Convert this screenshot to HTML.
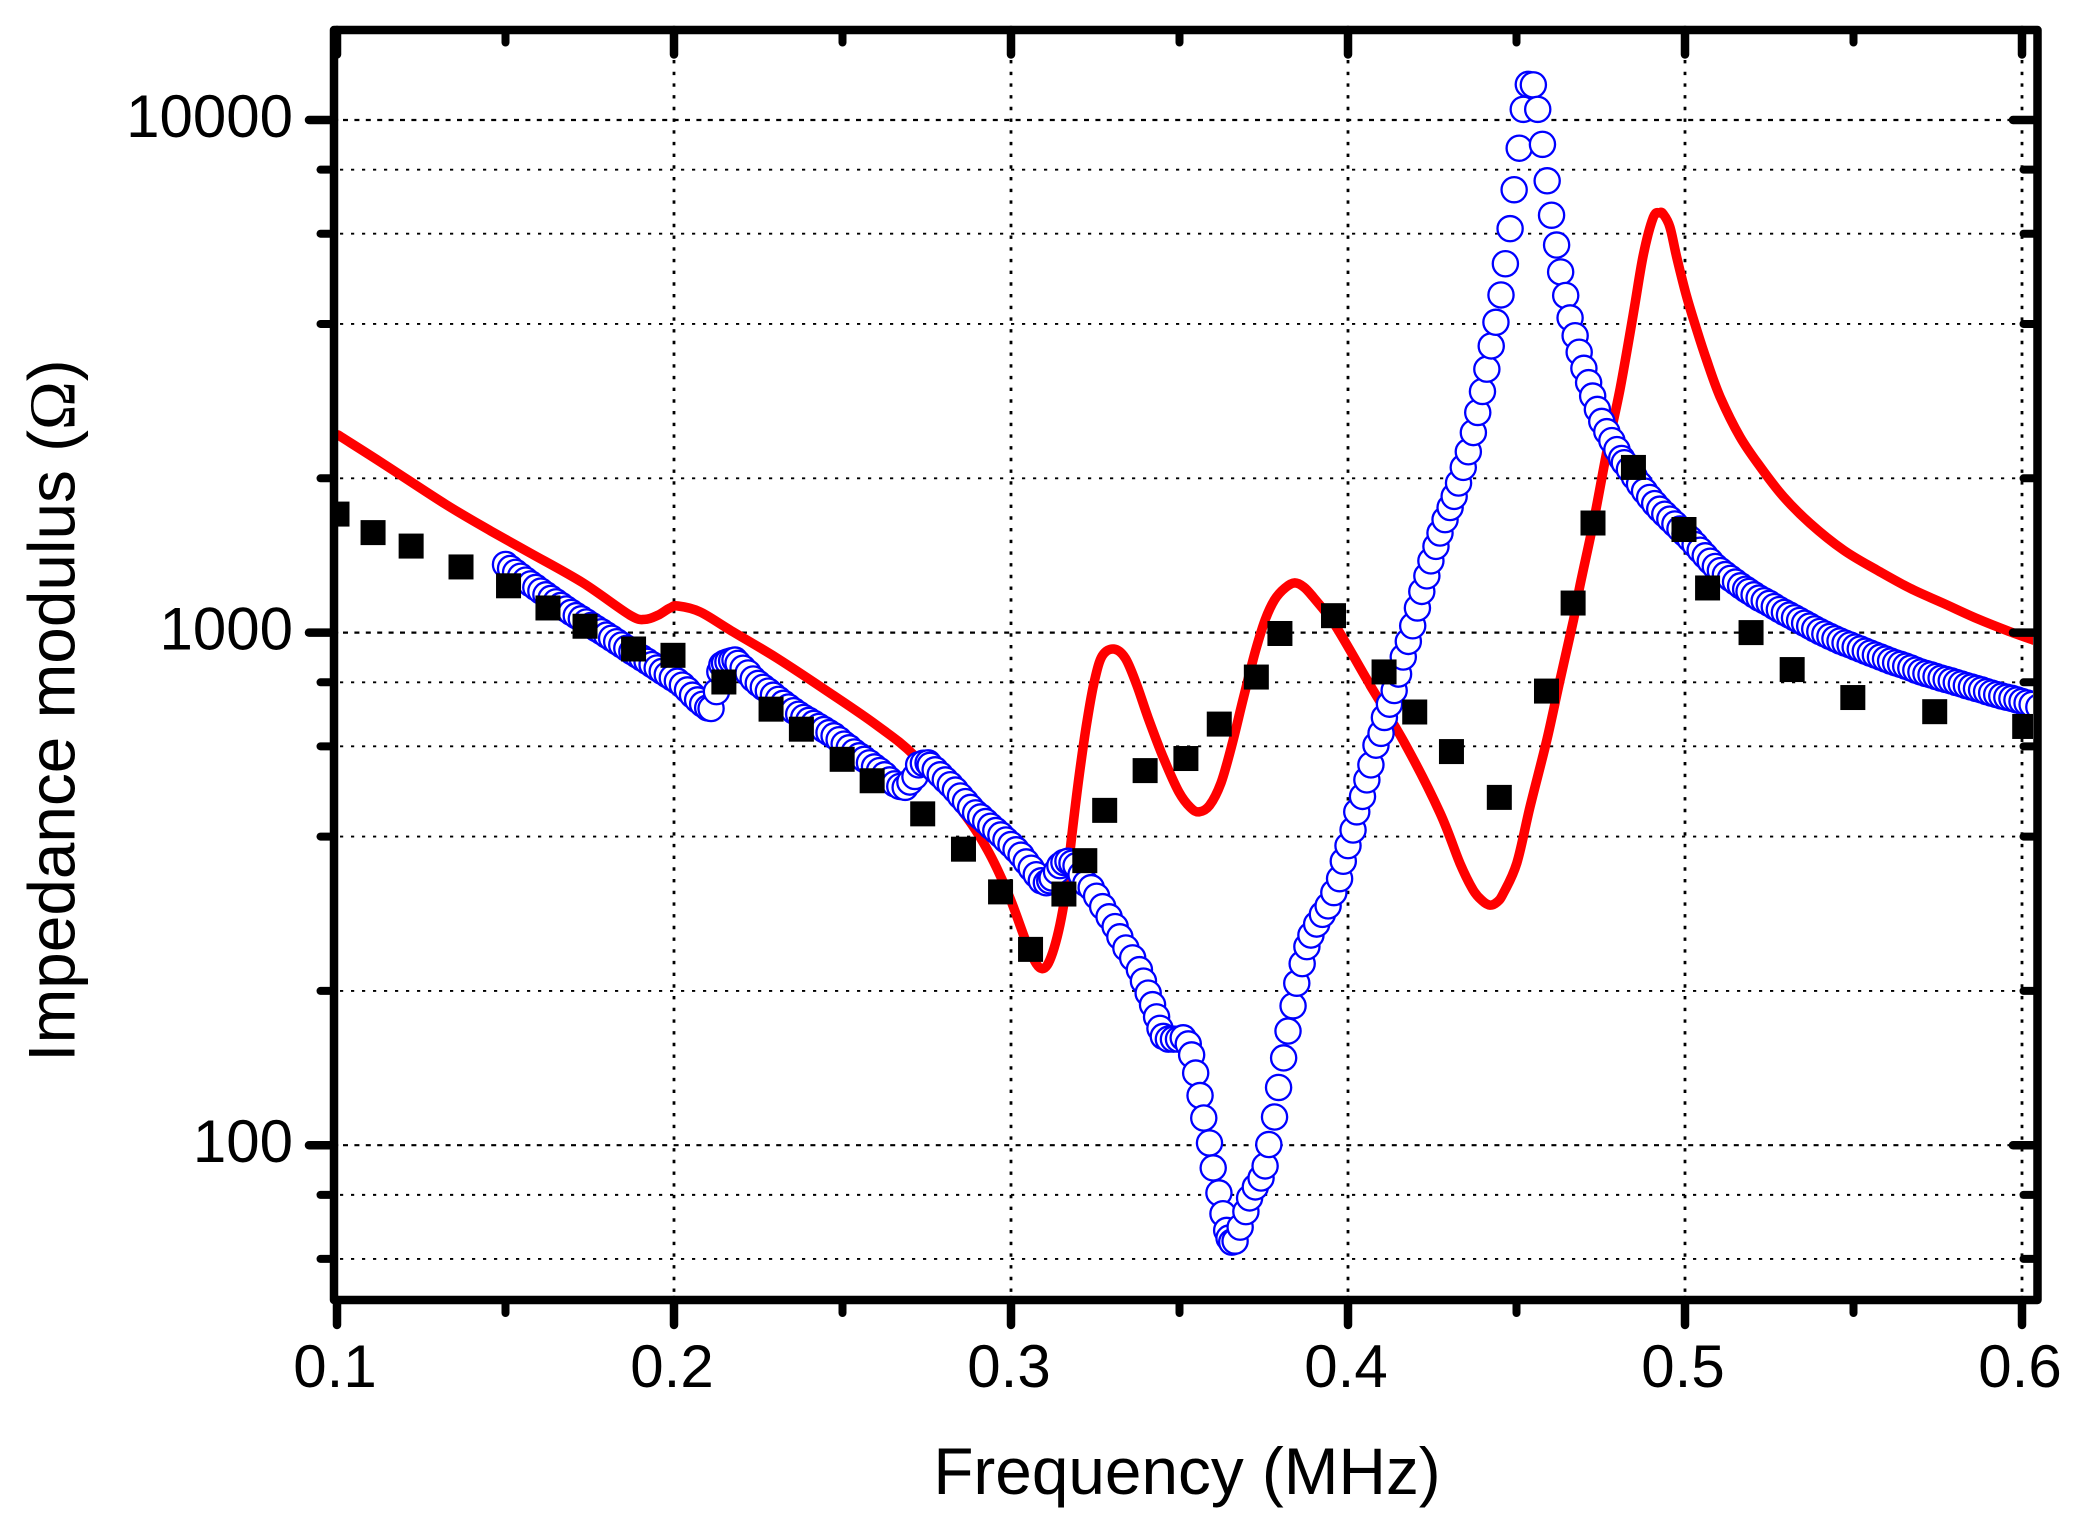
<!DOCTYPE html>
<html lang="en">
<head>
<meta charset="utf-8">
<title>Impedance modulus vs frequency</title>
<style>
html,body{margin:0;padding:0;background:#fff;}
svg{display:block;}
text{font-family:"Liberation Sans",sans-serif;fill:#000;}
</style>
</head>
<body>
<svg id="chart" xmlns="http://www.w3.org/2000/svg" width="2085" height="1534" viewBox="0 0 2085 1534">
<defs><clipPath id="plot-clip"><rect x="338" y="34" width="1695" height="1262"/></clipPath></defs>
<rect x="0" y="0" width="2085" height="1534" fill="#fff"/>
<g id="grid"></g>
<g id="marks" clip-path="url(#plot-clip)"></g>
<g id="axes"></g>
<g id="labels"></g>
<text x="1187" y="1494" font-size="65.7" text-anchor="middle">Frequency (MHz)</text>
<text transform="translate(74.5,710.5) rotate(-90)" font-size="65.7" text-anchor="middle">Impedance modulus (<tspan style="font-family:'Liberation Serif',serif">Ω</tspan>)</text>
</svg>
<script>
const xMajorTicks = [0.1, 0.2, 0.3, 0.4, 0.5, 0.6];
const xMinorTicks = [0.15, 0.25, 0.35, 0.45, 0.55];
const xTickLabels = ["0.1", "0.2", "0.3", "0.4", "0.5", "0.6"];
const yMajorTicks = [100, 1000, 10000];
const yMinorTicks = [60, 80, 200, 400, 600, 800, 2000, 4000, 6000, 8000];
const yTickLabels = ["100", "1000", "10000"];

const measuredFreq = [.1,.1107,.122,.1368,.1509,.1626,.1736,.188,.1997,.2148,.2288,.2378,.2499,.2588,.2738,.2859,.2969,.3058,.3157,.3219,.3278,.3398,.3519,.3618,.3728,.3798,.3957,.4107,.4198,.4307,.4449,.4589,.4668,.4727,.4847,.4997,.5067,.5196,.5318,.5498,.5741,.6008];
const measuredOhm = [1703,1567,1475,1343,1234,1117,1029,929,903,801,709,648,566,514,443,378,312,241,309,359,450,538,568,663,819,996,1079,838,700,586,477,769,1142,1636,2100,1589,1222,1000,847,747,701,656];

const modelFreq = [.1003,.1139,.1323,.1457,.1573,.173,.1869,.1914,.1953,.1988,.2012,.2077,.2166,.2305,.2463,.2601,.2715,.2852,.293,.2993,.3055,.3092,.3123,.3157,.318,.3203,.3226,.3248,.3271,.3305,.3339,.3373,.3407,.3453,.3498,.3532,.3558,.3589,.3623,.3657,.3691,.3725,.3754,.3782,.3813,.3842,.3869,.3896,.3961,.4056,
.4074,.4174,.4273,.4332,.4371,.4398,.4421,.4442,.446,.4501,.454,.459,.4629,.4669,
.4688,.4728,.4768,.4807,.4847,.4876,.4906,.4924,.4935,.4955,.4975,.5005,.5035,.5064,.5104,.5163,.5223,.5292,.5371,.547,.5569,.5668,.5766,.5865,.5964,.6034];
const modelOhm = [2430,2132,1778,1578,1430,1250,1082,1061,1082,1117,1127,1098,1012,892,762,660,574,451,377,308,240,221,237,296,400,530,674,807,901,929,892,791,681,568,489,456,447,460,509,609,752,919,1058,1158,1222,1250,1227,1174,1035,810,
773,599,445,355,315,300,294,298,309,355,457,617,808,1058,
1234,1636,2253,2983,4196,5440,6460,6590,6560,6190,5411,4522,3893,3402,2886,2411,2107,1842,1634,1449,1325,1220,1141,1066,1004,967];

const simFreq = [
.150,.1515,.153,.1545,.156,.1575,.159,.1605,.162,.1635,.165,.1665,.168,.1695,.171,.1725,.174,.1755,.177,.1785,
.180,.1815,.183,.1845,.186,.1875,.189,.1905,.192,.1935,.195,.1965,.198,.1995,.201,.2025,.204,.2055,.207,.2085,.210,.211,
.2126,.2136,.2142,.215,.216,.2171,.2181,
.219,.2205,.222,.2235,.225,.2265,.228,.2295,.231,.2325,.234,.2355,.237,.2385,.240,.2415,.243,.2445,.246,.2475,
.249,.2505,.252,.2535,.255,.2565,.258,.2595,.261,.2625,.264,.2655,.267,.2686,
.270,.2715,.2726,.274,.2754,
.276,.2775,.279,.2805,.282,.2835,.285,.2865,.288,.2895,.291,.2925,.294,.2955,.297,.2985,.300,.3015,.303,.3045,
.306,.3075,.309,.3105,
.3115,.3122,.3135,.3145,.3157,.3169,.3181,.3193,.3208,.3222,
.3238,.3254,.3272,.3291,.3309,.3323,.3341,.3361,.3381,.3393,.3407,.342,.3432,.3442,.3452,.3467,.3482,.3497,.3511,.3526,.3536,
.3548,.3561,.3572,.3589,.36,.3617,.3629,.364,.3647,.3655,.3665,
.368,.3697,.3708,.3725,.3742,.3754,.3765,.3782,.3794,.3809,.3822,.3837,.3848,.3864,.3878,.389,.3907,.3924,.3941,.3958,
.3975,.3986,.4,.4015,.4026,.4043,.4056,.4068,.4083,.4098,.4108,.4123,.4137,.415,.4164,.4179,.4192,.4206,.4219,.4234,
.4246,.4261,.4273,.4288,.4303,.4315,.4328,.4342,.4357,.4372,.4385,.4399,.4412,.4425,.4439,.4454,.4467,.4481,.4493,.4508,
.452,.4535,.455,
.4563,.4577,.4591,.4604,.4619,.4631,.4646,.4659,.4674,.4686,.47,.4714,.4726,.474,.4753,.4768,.4783,.4798,.4812,
.482,.4835,.485,.4865,.488,.4895,.491,.4925,.494,.4955,.497,.4985,.500,.5015,.503,.5045,.506,.5075,.509,.5105,
.512,.5135,.515,.5165,.518,.519,
.5205,.522,.5235,.525,.5265,.528,.5295,.531,.5325,.534,.5355,.537,.5385,.540,.5415,.543,.5445,.546,.5475,.549,
.5505,.552,.5535,.555,.5565,.558,.5595,.561,.5625,.564,.5655,.567,.5685,.570,.5715,.573,.5745,.576,.5775,.579,
.5805,.582,.5835,.585,.5865,.588,.5895,.591,.5925,.594,.5955,.597,.5985,.600,.6015,.603,.605];
const simOhm = [
1358,1334,1311,1288,1266,1245,1225,1205,1185,1166,1148,1130,1112,1095,1079,1064,1049,1033,1018,1004,
989,975,960,946,932,918,905,892,879,866,853,840,828,816,804,790,773,755,739,725,713,711,
767,839,865,872,877,881,884,
871,852,834,812,796,782,769,755,741,728,716,704,693,683,674,665,656,647,638,629,
618,606,596,585,575,566,557,547,538,528,516,507,501,499,
511,524,552,556,557,
551,540,528,516,505,493,480,468,456,445,437,428,419,411,403,394,386,377,368,357,
347,337,328,325,
328,332,342,351,356,358,355,351,337,324,
318,306,292,279,267,255,242.5,232,220,209,198,188,178,169,163,161,161,161,162,157.6,150,
138.3,125,113,101,90.3,80.7,73.5,68.2,65.9,64.7,65,
69.2,74.2,78.9,82.9,86.3,91.1,100.3,113.5,129.6,148,167,187,207,226,244,257,270,282,293,311,
331,358,384,412,447,479,516,552,603,636,683,725,771,830,896,961,1031,1117,1203,1290,
1380,1473,1564,1661,1754,1844,1958,2100,2253,2456,2688,2954,3265,3624,4031,4557,5243,6138,7311,8810,
10490,11733,11710,
10490,8964,7610,6520,5703,5053,4546,4111,3795,3524,3278,3073,2894,2725,2582,2466,2369,2275,2186,
2145,2081,2012,1947,1888,1835,1785,1741,1702,1665,1629,1593,1559,1523,1485,1448,1412,1378,1346,1321,
1298,1276,1255,1234,1215,1203,
1185,1168,1154,1140,1124,1109,1095,1082,1069,1056,1043,1030,1017,1005,994,983,973,963,954,946,
937,929,920,912,904,896,888,880,873,867,860,853,845,838,832,827,821,815,810,805,
799,794,788,783,778,773,767,762,757,752,748,744,739,734,729,724,716];

const SVGNS = "http://www.w3.org/2000/svg";
function xScale(f) { return 337 + (f - 0.1) * 3370; }
function yScale(v) { return 120 + (4 - Math.log10(v)) * 512.6; }
function make(tag, parent, attrs) {
  const el = document.createElementNS(SVGNS, tag);
  for (const k in attrs) el.setAttribute(k, attrs[k]);
  parent.appendChild(el);
  return el;
}
function smoothPath(xs, ys) {
  const pts = xs.map(function (f, i) { return [xScale(f), yScale(ys[i])]; });
  let d = "M" + pts[0][0].toFixed(1) + " " + pts[0][1].toFixed(1);
  for (let i = 0; i < pts.length - 1; i++) {
    const p0 = pts[Math.max(i - 1, 0)], p1 = pts[i], p2 = pts[i + 1], p3 = pts[Math.min(i + 2, pts.length - 1)];
    const c1x = p1[0] + (p2[0] - p0[0]) / 6, c1y = p1[1] + (p2[1] - p0[1]) / 6;
    const c2x = p2[0] - (p3[0] - p1[0]) / 6, c2y = p2[1] - (p3[1] - p1[1]) / 6;
    d += "C" + c1x.toFixed(1) + " " + c1y.toFixed(1) + " " + c2x.toFixed(1) + " " + c2y.toFixed(1) + " " + p2[0].toFixed(1) + " " + p2[1].toFixed(1);
  }
  return d;
}

const gridG = document.getElementById("grid");
const marksG = document.getElementById("marks");
const axesG = document.getElementById("axes");
const labelsG = document.getElementById("labels");

yMajorTicks.forEach(function (v) {
  const y = yScale(v);
  const el = make("line", gridG, {x1: 343, x2: 2033, y1: y, y2: y, stroke: "#000", "stroke-width": 2.2, "stroke-dasharray": "5 6.4"});
  
  
});
yMinorTicks.forEach(function (v) {
  const y = yScale(v);
  const el = make("line", gridG, {x1: 340, x2: 2033, y1: y, y2: y, stroke: "#000", "stroke-width": 1.9, "stroke-dasharray": "3.2 7.8"});
  
  
});
xMajorTicks.slice(1).forEach(function (f) {
  const x = xScale(f);
  const el = make("line", gridG, {x1: x, x2: x, y1: 60, y2: 1292, stroke: "#000", "stroke-width": 2.8, "stroke-dasharray": "3.4 8.3"});
  
  
});

const modelLine = make("path", marksG, {
  d: smoothPath(modelFreq, modelOhm),
  fill: "none", stroke: "#ff0000", "stroke-width": 9.5, "stroke-linejoin": "round", "stroke-linecap": "round"
});



simFreq.forEach(function (f, i) {
  const c = make("circle", marksG, {cx: xScale(f), cy: yScale(simOhm[i]), r: 12.6, fill: "#fff", stroke: "#0000ff", "stroke-width": 2.3});
  
  
});

measuredFreq.forEach(function (f, i) {
  const r = make("rect", marksG, {x: xScale(f) - 12.5, y: yScale(measuredOhm[i]) - 12.5, width: 25, height: 25, fill: "#000"});
  
  
});

const frame = make("rect", axesG, {x: 334, y: 30, width: 1703.5, height: 1270, fill: "none", stroke: "#000", "stroke-width": 8.5, "stroke-linejoin": "round"});



function tick(x1, y1, x2, y2, w) {
  return make("line", axesG, {x1: x1, y1: y1, x2: x2, y2: y2, stroke: "#000", "stroke-width": w, "stroke-linecap": "round"});
}
xMajorTicks.forEach(function (f) {
  const x = xScale(f);
  const t1 = tick(x, 30, x, 54.5, 8.5);
  
  
  const t2 = tick(x, 1300, x, 1325, 8.5);
  
  
});
xMinorTicks.forEach(function (f) {
  const x = xScale(f);
  const t1 = tick(x, 30, x, 42.5, 8);
  
  
  const t2 = tick(x, 1300, x, 1313, 8);
  
  
});
yMajorTicks.forEach(function (v) {
  const y = yScale(v);
  const t1 = tick(334, y, 309, y, 8.5);
  
  
  const t2 = tick(2037, y, 2013, y, 8.5);
  
  
});
yMinorTicks.forEach(function (v) {
  const y = yScale(v);
  const t1 = tick(334, y, 320.5, y, 8);
  
  
  const t2 = tick(2037, y, 2023.5, y, 8);
  
  
});

xMajorTicks.forEach(function (f, i) {
  const t = make("text", labelsG, {x: xScale(f) - 2, y: 1387, "font-size": 60, "text-anchor": "middle"});
  t.textContent = xTickLabels[i];
  
  
});
yMajorTicks.forEach(function (v, i) {
  const t = make("text", labelsG, {x: 293, y: yScale(v) + 17, "font-size": 60, "text-anchor": "end"});
  t.textContent = yTickLabels[i];
  
  
});
</script>
</body>
</html>
